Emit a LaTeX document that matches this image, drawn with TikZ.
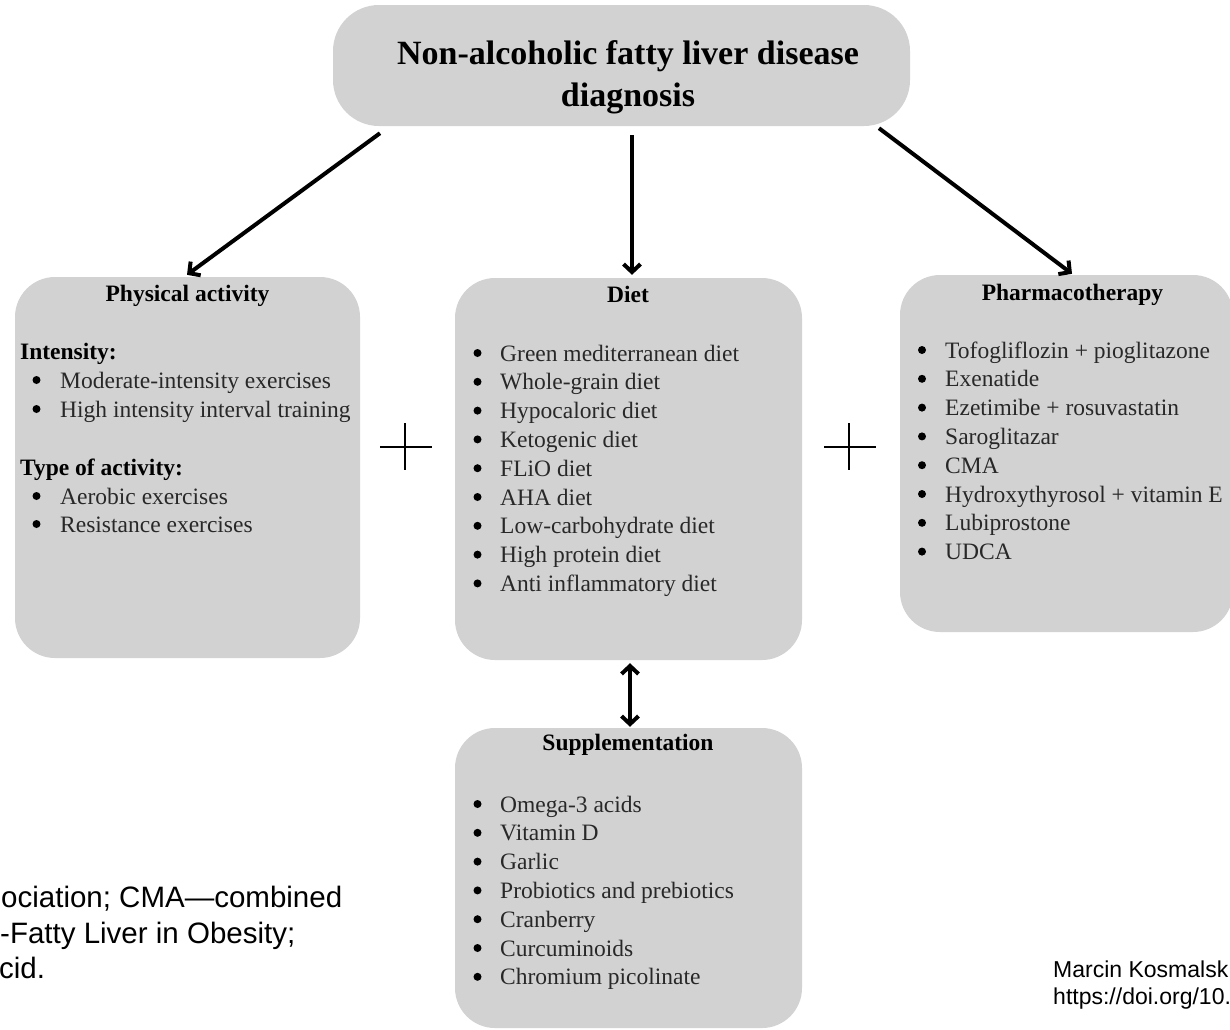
\documentclass[tikz,border=0pt]{standalone}
\usepackage{fontspec}
\setmainfont{Liberation Serif}
\newfontfamily\sansfont{Liberation Sans}
\usetikzlibrary{arrows.meta,calc}
\definecolor{boxgray}{RGB}{210,210,210}
\definecolor{itemgray}{RGB}{40,40,40}
\begin{document}
\begin{tikzpicture}[x=1pt,y=-1pt,
  panel/.style={fill=boxgray, draw=none, rounded corners=40pt, inner sep=0pt},
  head/.style={anchor=base, inner sep=0pt, font=\fontsize{23.5}{28}\selectfont\bfseries},
  item/.style={anchor=base west, inner sep=0pt, text=itemgray, font=\fontsize{23.5}{28}\selectfont},
  subhead/.style={anchor=base west, inner sep=0pt, font=\fontsize{23.5}{28}\selectfont\bfseries},
  dot/.style={fill=black},
  arr/.style={line width=4pt, -{Straight Barb[length=8pt,width=17pt]}},
  dblarr/.style={line width=4pt, {Straight Barb[length=8pt,width=17pt]}-{Straight Barb[length=8pt,width=17pt]}},
  plusbar/.style={line width=2pt},
  note/.style={anchor=base west, inner sep=0pt, font=\sansfont\fontsize{29.5}{36}\selectfont},
  credit/.style={anchor=base west, inner sep=0pt, font=\sansfont\fontsize{23}{27}\selectfont}
]
\useasboundingbox (0,0) rectangle (1230,1029);
\clip (0,0) rectangle (1230,1029);

% panels
\node[panel, rounded corners=46pt, minimum width=577pt, minimum height=121pt] (top) at (621.5,65.5) {};
\node[panel, minimum width=345pt, minimum height=381pt] (phys) at (187.5,467.5) {};
\node[panel, minimum width=347pt, minimum height=382pt] (diet) at (628.5,469) {};
\node[panel, minimum width=333pt, minimum height=357pt] (pharm) at (1066.5,453.5) {};
\node[panel, minimum width=347pt, minimum height=300pt] (supp) at (628.5,878) {};

% title
\node[anchor=base, inner sep=0pt, font=\fontsize{34}{42}\selectfont\bfseries] (t1) at (628,64) {Non-alcoholic fatty liver disease};
\node[anchor=base, inner sep=0pt, font=\fontsize{34}{42}\selectfont\bfseries] (t2) at (628,106) {diagnosis};

% connectors
\draw[arr] ([xshift=-241.5pt,yshift=-7pt]top.south) -- ([xshift=-0.5pt,yshift=2pt]phys.north);
\draw[arr] ([xshift=10.5pt,yshift=-9pt]top.south) -- ([xshift=3.5pt,yshift=3pt]diet.north);
\draw[arr] ([xshift=257.5pt,yshift=-2pt]top.south) -- ([xshift=5.5pt,yshift=1pt]pharm.north);
\draw[dblarr] ([xshift=1.5pt,yshift=-3pt]diet.south) -- ([xshift=1.5pt,yshift=1pt]supp.north);

% plus signs between the panels
\draw[plusbar] (380,447) -- (432,447);
\draw[plusbar] (405,423) -- (405,470);
\draw[plusbar] (824,447) -- (876,447);
\draw[plusbar] (849,423) -- (849,470);

% physical activity
\node[head] (ph) at (187.5,301) {Physical activity};
\node[subhead] (ph1) at (20,359) {Intensity:};
\node[item] (ph2) at (60,388) {Moderate-intensity exercises};
\node[item] (ph3) at (60,417) {High intensity interval training};
\node[subhead] (ph4) at (20,475) {Type of activity:};
\node[item] (ph5) at (60,504) {Aerobic exercises};
\node[item] (ph6) at (60,532) {Resistance exercises};
\foreach \yb in {388,417,504,532}
  \fill[dot] (36.5,\yb-8) circle (4pt);

% diet
\node[head] (dh) at (628,302) {Diet};
\foreach \txt [count=\i] in {Green mediterranean diet, Whole-grain diet, Hypocaloric diet,
  Ketogenic diet, FLiO diet, AHA diet, Low-carbohydrate diet, High protein diet,
  Anti inflammatory diet}{
  \node[item] (d\i) at (500,{361+28.8*(\i-1)}) {\txt};
  \fill[dot] (477.5,{353+28.8*(\i-1)}) circle (4pt);
}

% pharmacotherapy
\node[head] (pth) at (1072.5,300) {Pharmacotherapy};
\foreach \txt [count=\i] in {Tofogliflozin + pioglitazone, Exenatide, Ezetimibe + rosuvastatin,
  Saroglitazar, CMA, Hydroxythyrosol + vitamin E, Lubiprostone, UDCA}{
  \node[item] (p\i) at (945,{358+28.8*(\i-1)}) {\txt};
  \fill[dot] (922,{350+28.8*(\i-1)}) circle (4pt);
}

% supplementation
\node[head] (sh) at (628,750) {Supplementation};
\foreach \txt [count=\i] in {Omega-3 acids, Vitamin D, Garlic, Probiotics and prebiotics,
  Cranberry, Curcuminoids, Chromium picolinate}{
  \node[item] (s\i) at (500,{812+28.8*(\i-1)}) {\txt};
  \fill[dot] (477.5,{804+28.8*(\i-1)}) circle (4pt);
}

% running text at the lower left
\node[note] (n1) at (1,907) {ociation; CMA—combined};
\node[note] (n2) at (0,943) {-Fatty Liver in Obesity;};
\node[note] (n3) at (-1,978) {cid.};

% credit at the lower right
\node[credit] (c1) at (1053,977) {Marcin Kosmalsk};
\node[credit] (c2) at (1053,1004) {https://doi.org/10.};
\end{tikzpicture}
\end{document}
